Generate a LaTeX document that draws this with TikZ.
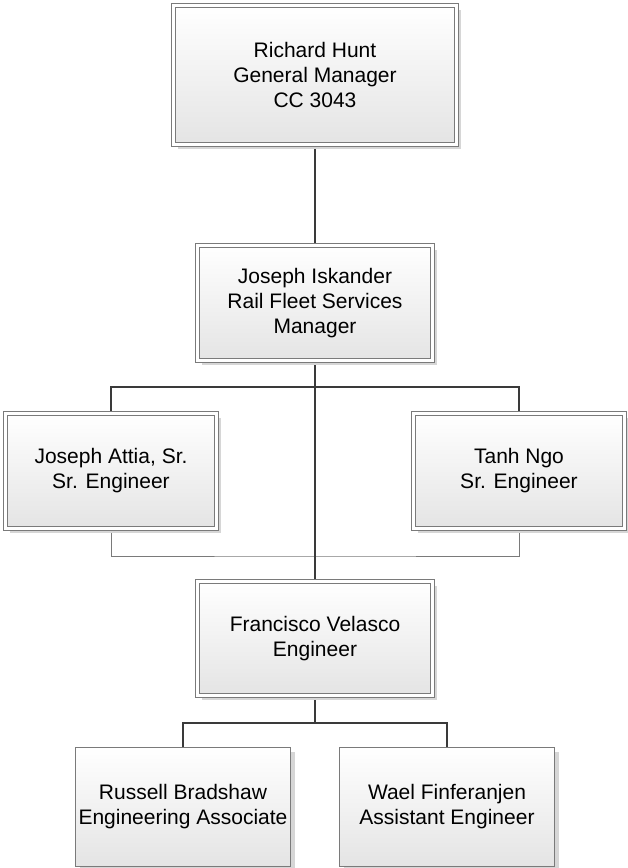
\documentclass[tikz,border=0pt]{standalone}
\usepackage{fontspec}
\setmainfont{Liberation Sans}
\usetikzlibrary{shadows,backgrounds}
\definecolor{framegray}{HTML}{7A7A7A}
\definecolor{linkgray}{HTML}{3A3A3A}
\definecolor{fillgray}{HTML}{E4E4E4}
\begin{document}
\begin{tikzpicture}[x=1pt, y=-1pt,
  every node/.style={font=\fontsize{21}{25}\selectfont, align=center, inner sep=0pt},
  person/.style={draw=framegray, line width=1pt, top color=white, bottom color=fillgray,
    drop shadow={shadow xshift=4pt, shadow yshift=-4pt, fill=black!16, opacity=1}},
  lead/.style={person, double=white, double distance=2.6pt, line width=1.2pt},
  link/.style={draw=linkgray, line width=2.4pt},
  tie/.style={draw=framegray, line width=0.8pt}]
  \useasboundingbox (0,0) rectangle (627,868);
  \node[lead, minimum width=283pt, minimum height=139pt] (hunt) at (315,75) {Richard Hunt\\General Manager\\CC 3043};
  \node[lead, minimum width=235pt, minimum height=115pt] (iskander) at (315,303) {Joseph Iskander\\Rail Fleet Services\\Manager};
  \node[lead, minimum width=211pt, minimum height=115pt] (attia) at (111,471) {Joseph Attia, Sr.\\Sr. Engineer};
  \node[lead, minimum width=211pt, minimum height=115pt] (ngo) at (519,471) {Tanh Ngo\\Sr. Engineer};
  \node[lead, minimum width=235pt, minimum height=114pt] (velasco) at (315,638.5) {Francisco Velasco\\Engineer};
  \node[person, minimum width=215pt, minimum height=119pt] (bradshaw) at (183,807) {Russell Bradshaw\\Engineering Associate};
  \node[person, minimum width=215pt, minimum height=119pt] (finferanjen) at (447,807) {Wael Finferanjen\\Assistant Engineer};
  \coordinate (bus1) at (315,387);
  \coordinate (bus2) at (315,723);
  \coordinate (tie1) at (315,556);
  \begin{scope}[on background layer]
    \draw[tie] (attia.south) |- (tie1) -| (ngo.south);
    \draw[link] (hunt.south) -- (iskander.north);
    \draw[link] (iskander.south) -- (velasco.north);
    \draw[link] (attia.north) |- (bus1) -| (ngo.north);
    \draw[link] (velasco.south) -- (bus2);
    \draw[link] (bradshaw.north) |- (bus2) -| (finferanjen.north);
  \end{scope}
\end{tikzpicture}
\end{document}
